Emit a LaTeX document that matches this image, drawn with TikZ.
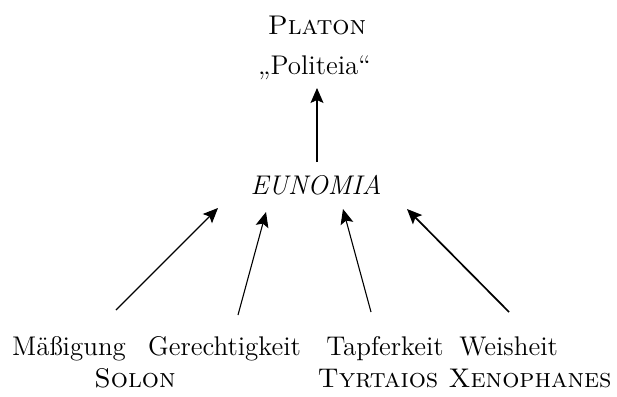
\documentclass[tikz,border=0pt]{standalone}
\usepackage{fontspec}
\usetikzlibrary{arrows.meta,calc}

\tikzstyle{texto} = [font=\fontsize{13.5}{16}\selectfont, anchor=base, inner sep=0pt]
\tikzstyle{seta} = [-{Stealth[length=7.5pt, width=6.5pt, inset=1.5pt]}, line width=0.55pt]

\begin{document}
\begin{tikzpicture}[x=0.5pt, y=-0.5pt]
    \useasboundingbox (0,0) rectangle (617,397);

    % top
    \node at (317,34) [texto] (platon) {\textsc{Platon}};
    \node at (314.5,74) [texto] (politeia) {„Politeia“};

    % middle
    \node at (316,194) [texto] (eunomia) {\textit{EUNOMIA}};
    \draw [seta] ($(eunomia.base)+(1,-32)$) -- ($(politeia.base)+(2.5,14)$);

    % virtues
    \node at (69,355) [texto] (massigung) {Mäßigung};
    \node at (224.5,355) [texto] (gerechtigkeit) {Gerechtigkeit};
    \node at (385,355) [texto] (tapferkeit) {Tapferkeit};
    \node at (459,355) [texto, anchor=base west] (weisheit) {Weisheit};

    \draw [seta] ($(massigung.base)+(47,-45)$) -- ($(eunomia.base)+(-98,14)$);
    \draw [seta] ($(gerechtigkeit.base)+(13.5,-40)$) -- ($(eunomia.base)+(-50,18)$);
    \draw [seta] ($(tapferkeit.base)+(-14,-43)$) -- ($(eunomia.base)+(27,15)$);
    \draw [seta, line width=0.85pt] ($(weisheit.base west)+(50,-43)$) -- ($(eunomia.base)+(91,15)$);

    % authors
    \node at (135,387) [texto] (solon) {\textsc{Solon}};
    \node at (378,387) [texto] (tyrtaios) {\textsc{Tyrtaios}};
    \node at (612,387) [texto, anchor=base east] (xenophanes) {\textsc{Xenophanes}};

\end{tikzpicture}
\end{document}
